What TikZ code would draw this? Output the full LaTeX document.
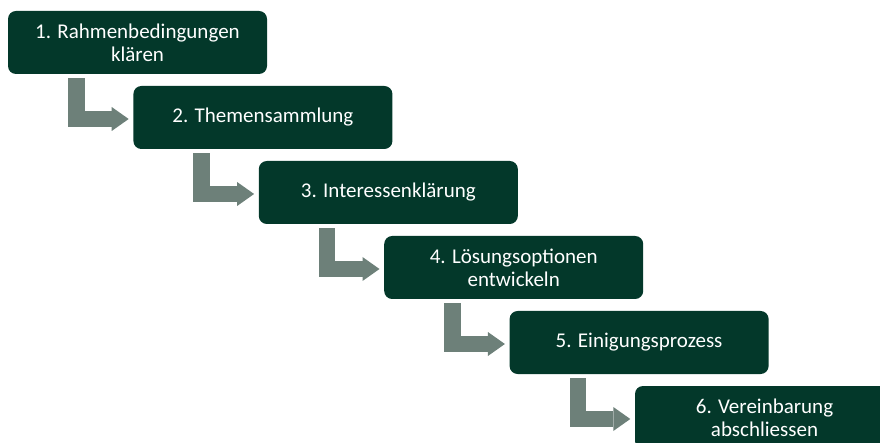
\documentclass[tikz,border=0pt]{standalone}
\usepackage{fontspec}
\setmainfont{Carlito}
\usetikzlibrary{arrows.meta}
\definecolor{stepgreen}{HTML}{03382A}
\definecolor{arrowgrey}{HTML}{6D8079}
\begin{document}
\begin{tikzpicture}[
  x=1pt, y=-1pt,
  stepbox/.style={rectangle, rounded corners=8pt, fill=stepgreen, text=white,
    minimum width=259pt, minimum height=63pt, align=center,
    font=\fontsize{21}{23}\selectfont},
  elbow/.style={draw=arrowgrey, line width=16.5pt,
    -{Triangle[length=17pt, width=24pt, line width=0pt]}}
]
\path[use as bounding box, clip] (0,0) rectangle (880,443);

\node[stepbox] (b1) at (137.5,42.5) {1. Rahmenbedingungen\\klären};
\node[stepbox] (b2) at (262.9,117.5) {2. Themensammlung};
\node[stepbox] (b3) at (388.3,192.5) {3. Interessenklärung};
\node[stepbox] (b4) at (513.7,267.5) {4. Lösungsoptionen\\entwickeln};
\node[stepbox] (b5) at (639.1,342.5) {5. Einigungsprozess};
\node[stepbox] (b6) at (764.5,417.5) {6. Vereinbarung\\abschliessen};

\foreach \a/\b in {b1/b2, b2/b3, b3/b4, b4/b5, b5/b6}
  \draw[elbow] ([xshift=68.5pt, yshift=-4pt]\a.south west)
    |- ([xshift=-4.5pt, yshift=-1.5pt]\b.west);
\end{tikzpicture}
\end{document}
